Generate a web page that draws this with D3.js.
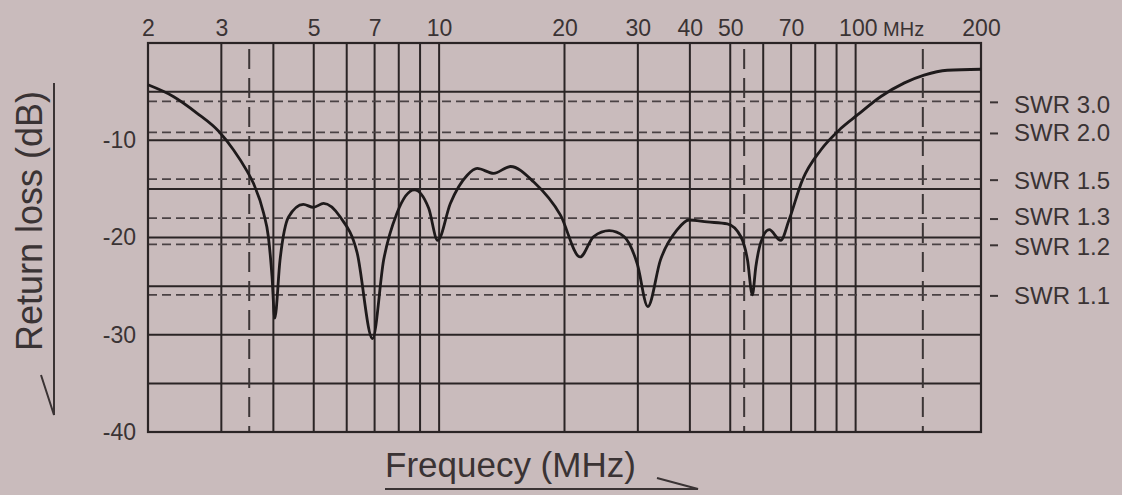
<!DOCTYPE html>
<html>
<head>
<meta charset="utf-8">
<script src="https://cdn.jsdelivr.net/npm/d3@7"></script>
<style>
  body { margin: 0; background: #c8bcbd; }
  svg text { font-family: "Liberation Sans", Arial, sans-serif; fill: #3a3334; }
</style>
</head>
<body>
<div id="chart"></div>
<script>
// curve (MHz, dB)
const freq = [2, 2.3, 2.62, 2.96, 3.21, 3.45, 3.58, 3.79, 3.89, 3.97,
  4.03, 4.15, 4.35, 4.72, 4.99, 5.28, 5.79, 6.35, 6.92, 7.36,
  7.92, 8.72, 9.44, 9.92, 10.64, 11.68, 12.34, 13.52, 14.84, 16.88,
  19.56, 21.8, 23.5, 25.6, 27.8, 29.9, 31.7, 34.0, 37.3, 39.8,
  44, 49.2, 53.0, 55, 56.5, 57.6, 59.2, 62.0, 66.1, 69.2,
  74.5, 82.5, 92.1, 101, 115, 131, 146, 166, 200];
const loss = [-4.3, -5.5, -7.2, -9.1, -11.0, -13.1, -14.4, -17.5, -19.9, -24.0,
  -28.3, -22.3, -17.9, -16.6, -16.9, -16.5, -17.9, -21.5, -30.4, -22.3,
  -17.5, -15.1, -17.0, -20.3, -16.5, -13.6, -12.9, -13.4, -12.7, -14.3,
  -17.7, -22.0, -19.9, -19.3, -19.9, -22.7, -27.1, -22.3, -19.2, -18.2,
  -18.4, -18.6, -19.9, -22.3, -25.9, -23.0, -20.5, -19.2, -20.3, -18.2,
  -14.1, -11.0, -8.8, -7.4, -5.5, -4.1, -3.3, -2.8, -2.7];

const topTicks = [2, 3, 5, 7, 10, 20, 30, 40, 50, 70, 100, 200];
const leftTicks = [-10, -20, -30, -40];
const vGrid = [3, 4, 5, 6, 7, 8, 9, 10, 20, 30, 40, 50, 60, 70, 80, 90, 100];
const hGrid = [-5, -10, -15, -20, -25, -30, -35];
const bandLines = [3.5, 54, 145];
const swrLabels = ["SWR 3.0", "SWR 2.0", "SWR 1.5", "SWR 1.3", "SWR 1.2", "SWR 1.1"];
const swrDb = [-6.0, -9.2, -14.0, -18.0, -20.7, -25.9];

let w = 1122, h = 495;
let dark = "#2a2425";

let svg = d3.select("#chart").append("svg")
  .attr("width", w).attr("height", h);

svg.append("rect").attr("width", w).attr("height", h).attr("fill", "#c9bbbc");

let xScale = d3.scaleLog().domain([2, 200]).range([148, 981]);
let yScale = d3.scaleLinear().domain([0, -40]).range([43, 432]);

// grid
svg.append("g").selectAll("line").data(vGrid).join("line")
  .attr("x1", d => xScale(d)).attr("x2", d => xScale(d))
  .attr("y1", yScale(0)).attr("y2", yScale(-40))
  .attr("stroke", dark).attr("stroke-width", 2);

svg.append("g").selectAll("line").data(hGrid).join("line")
  .attr("x1", xScale(2)).attr("x2", xScale(200))
  .attr("y1", d => yScale(d)).attr("y2", d => yScale(d))
  .attr("stroke", dark).attr("stroke-width", 2);

// band edges (dashed verticals)
svg.append("g").selectAll("line").data(bandLines).join("line")
  .attr("x1", d => xScale(d)).attr("x2", d => xScale(d))
  .attr("y1", yScale(0) + 6).attr("y2", yScale(-40))
  .attr("stroke", "#3c3536").attr("stroke-width", 2)
  .attr("stroke-dasharray", "20,9");

// SWR levels
let swr = svg.append("g");
swr.selectAll("line.lvl").data(swrDb).join("line").attr("class", "lvl")
  .attr("x1", xScale(2)).attr("x2", xScale(200))
  .attr("y1", d => yScale(d)).attr("y2", d => yScale(d))
  .attr("stroke", "#4a4244").attr("stroke-width", 1.8)
  .attr("stroke-dasharray", "9,5");
swr.selectAll("line.tk").data(swrDb).join("line").attr("class", "tk")
  .attr("x1", xScale(200) + 9).attr("x2", xScale(200) + 17)
  .attr("y1", d => yScale(d) + 1).attr("y2", d => yScale(d) + 1)
  .attr("stroke", "#3a3334").attr("stroke-width", 2);
// 1.3 and 1.2 sit close together, spread their labels a little
let nudge = [3, 0, 1, -2, 2, 1];
swr.selectAll("text").data(swrDb).join("text")
  .attr("x", xScale(200) + 33)
  .attr("y", (d, i) => yScale(d) + nudge[i])
  .attr("dominant-baseline", "central")
  .attr("font-size", "24px")
  .text((d, i) => swrLabels[i]);

// border
svg.append("rect")
  .attr("x", xScale(2)).attr("y", yScale(0))
  .attr("width", xScale(200) - xScale(2)).attr("height", yScale(-40) - yScale(0))
  .attr("fill", "none").attr("stroke", dark).attr("stroke-width", 2.2);

// axes
let xAxis = d3.axisTop(xScale).tickValues(topTicks).tickFormat(d => d)
  .tickSize(0).tickPadding(7);
let gx = svg.append("g").attr("transform", "translate(0," + yScale(0) + ")").call(xAxis);
gx.select(".domain").remove();
gx.selectAll("text").attr("font-size", "23px").attr("fill", "#3a3334");
gx.selectAll(".tick").filter(d => d === 100).select("text")
  .attr("text-anchor", "start").attr("x", -17)
  .append("tspan").attr("font-size", "20px").text(" MHz");

let yAxis = d3.axisLeft(yScale).tickValues(leftTicks).tickFormat(d => String(d))
  .tickSize(0).tickPadding(12);
let gy = svg.append("g").attr("transform", "translate(" + xScale(2) + ",0)").call(yAxis);
gy.select(".domain").remove();
gy.selectAll("text").attr("font-size", "23px").attr("fill", "#3a3334");

// curve
let line = d3.line()
  .x((d, i) => xScale(freq[i]))
  .y(d => yScale(d))
  .curve(d3.curveMonotoneX);
svg.append("path").datum(loss)
  .attr("d", line)
  .attr("fill", "none").attr("stroke", "#1e1a1b").attr("stroke-width", 2.8)
  .attr("stroke-linejoin", "round");

// axis titles with their arrows
svg.append("text")
  .attr("transform", "translate(42,221) rotate(-90)")
  .attr("text-anchor", "middle")
  .attr("font-size", "36px")
  .text("Return loss (dB)");
svg.append("path")
  .attr("d", "M54,83 L54,415 L41,375")
  .attr("fill", "none").attr("stroke", "#3a3334").attr("stroke-width", 2);

svg.append("text")
  .attr("x", 385).attr("y", 477)
  .attr("font-size", "35px")
  .text("Frequecy (MHz)");
svg.append("path")
  .attr("d", "M385,489 L698,489 L657,478")
  .attr("fill", "none").attr("stroke", "#3a3334").attr("stroke-width", 2);
</script>
</body>
</html>
